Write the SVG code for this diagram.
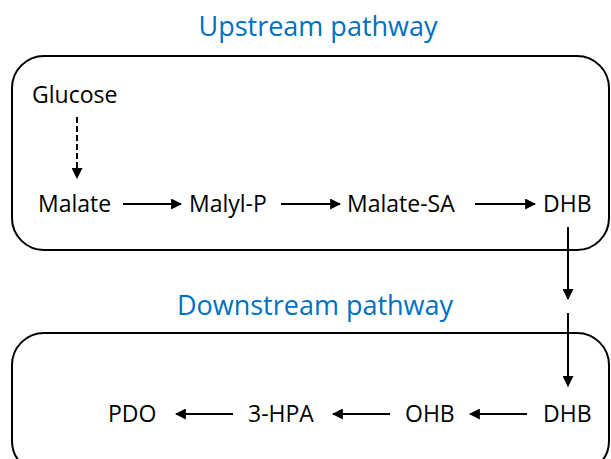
<svg xmlns="http://www.w3.org/2000/svg" width="611" height="459" viewBox="0 0 611 459">
<defs>
<style>
.t{font-family:"Open Sans","Noto Sans",sans-serif;font-size:23px;fill:#000}
.h{font-family:"Open Sans","Noto Sans",sans-serif;font-size:27px;fill:#0070C0;text-anchor:middle}
.box{fill:none;stroke:#000;stroke-width:2}
.c{stroke:#000;stroke-width:2;fill:none;marker-end:url(#ah)}
.d{stroke:#000;stroke-width:2;fill:none;stroke-dasharray:6,3;marker-end:url(#ah)}
</style>
<marker id="ah" viewBox="0 0 10 10" refX="9" refY="5" markerWidth="5.5" markerHeight="5.5" orient="auto" markerUnits="strokeWidth">
<path d="M0,0 L10,5 L0,10 z" fill="#000"/>
</marker>
</defs>
<rect width="611" height="459" fill="#fff"/>
<g id="upstream">
<text class="h" x="318" y="36">Upstream pathway</text>
<rect class="box" x="12" y="56" width="597" height="194" rx="32"/>
</g>
<g id="downstream">
<text class="h" x="315" y="315">Downstream pathway</text>
<rect class="box" x="12" y="333" width="597" height="140" rx="32"/>
</g>
<g id="glucose"><text class="t" x="32" y="103">Glucose</text></g>
<g id="malate"><text class="t" x="38" y="212">Malate</text></g>
<g id="malylp"><text class="t" x="189" y="212">Malyl-P</text></g>
<g id="malatesa"><text class="t" x="347" y="212">Malate-SA</text></g>
<g id="dhb1"><text class="t" x="543" y="212">DHB</text></g>
<g id="dhb2"><text class="t" x="543" y="422">DHB</text></g>
<g id="ohb"><text class="t" x="405" y="422">OHB</text></g>
<g id="hpa"><text class="t" x="248" y="422">3-HPA</text></g>
<g id="pdo"><text class="t" x="108" y="422">PDO</text></g>
<g id="connectors">
<line class="d" x1="77" y1="117" x2="77" y2="178"/>
<line class="c" x1="123" y1="204" x2="181" y2="204"/>
<line class="c" x1="281" y1="204" x2="340" y2="204"/>
<line class="c" x1="475" y1="204" x2="535" y2="204"/>
<line class="c" x1="568" y1="227" x2="568" y2="299"/>
<line class="c" x1="568" y1="313" x2="568" y2="386"/>
<line class="c" x1="527" y1="414" x2="470" y2="414"/>
<line class="c" x1="390" y1="414" x2="333" y2="414"/>
<line class="c" x1="233" y1="414" x2="176" y2="414"/>
</g>
</svg>
